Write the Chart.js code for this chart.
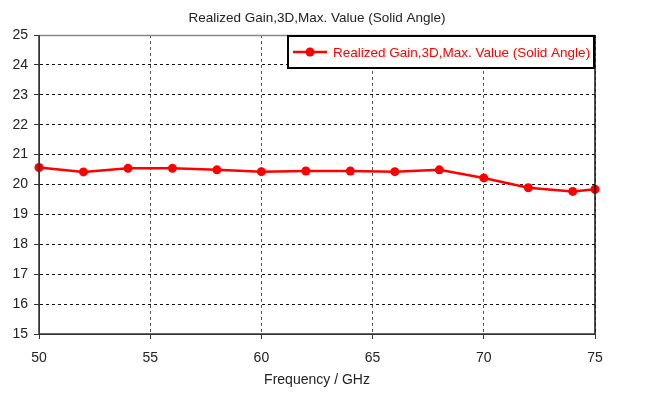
<!DOCTYPE html>
<html>
<head>
<meta charset="utf-8">
<script src="https://cdn.jsdelivr.net/npm/chart.js@4"></script>
<style>
html,body{margin:0;padding:0;background:#fff;}
#wrap{width:649px;height:397px;}
</style>
</head>
<body>
<div id="wrap"><canvas id="c" width="649" height="397"></canvas></div>
<script>
const chartTitle = "Realized Gain,3D,Max. Value (Solid Angle)";
const seriesLabel = "Realized Gain,3D,Max. Value (Solid Angle)";
const xTitle = "Frequency / GHz";
const frequency = [50, 52, 54, 56, 58, 60, 62, 64, 66, 68, 70, 72, 74, 75];
const gain = [20.57, 20.42, 20.54, 20.54, 20.49, 20.43, 20.45, 20.45, 20.43, 20.49, 20.22, 19.89, 19.77, 19.84];
const xMin = 50, xMax = 75, xStep = 5;
const yMin = 15, yMax = 25, yStep = 1;

const FONT = "'Liberation Sans', Arial, sans-serif";
const RED = '#ff0000';

const framePlugin = {
  id: 'frame',
  afterDraw(chart) {
    const {ctx, chartArea: a} = chart;
    ctx.save();
    ctx.strokeStyle = '#888';
    ctx.lineWidth = 1.5;
    ctx.beginPath(); ctx.moveTo(a.left, a.top + 0.5); ctx.lineTo(a.right, a.top + 0.5); ctx.stroke();
    ctx.strokeStyle = '#111';
    ctx.beginPath(); ctx.moveTo(a.right, a.top); ctx.lineTo(a.right, a.bottom); ctx.stroke();
    ctx.strokeStyle = '#333';
    ctx.beginPath(); ctx.moveTo(a.left, a.top); ctx.lineTo(a.left, a.bottom); ctx.lineTo(a.right, a.bottom); ctx.stroke();

    const ds = chart.data.datasets[0];
    const w = 308, h = 34;
    const x0 = a.right - w, y0 = a.top;
    ctx.fillStyle = '#fff';
    ctx.fillRect(x0, y0, w, h);
    ctx.strokeStyle = '#000';
    ctx.lineWidth = 2;
    ctx.strokeRect(x0 + 1, y0 + 1, w - 2, h - 2);
    const cy = y0 + 17;
    ctx.strokeStyle = ds.borderColor;
    ctx.lineWidth = 2.5;
    ctx.beginPath(); ctx.moveTo(x0 + 6, cy); ctx.lineTo(x0 + 40, cy); ctx.stroke();
    ctx.fillStyle = ds.borderColor;
    ctx.beginPath(); ctx.arc(x0 + 23, cy, 4.5, 0, Math.PI * 2); ctx.fill();
    ctx.font = "13.5px " + FONT;
    ctx.textBaseline = 'middle';
    ctx.textAlign = 'left';
    ctx.fillText(ds.label, x0 + 46, cy + 1);
    ctx.restore();
  }
};

new Chart(document.getElementById('c'), {
  type: 'line',
  data: {
    datasets: [{
      label: seriesLabel,
      data: frequency.map((f, i) => ({x: f, y: gain[i]})),
      borderColor: RED,
      backgroundColor: RED,
      borderWidth: 2.5,
      pointRadius: 4.5,
      pointHoverRadius: 4.5,
      pointBackgroundColor: RED,
      pointBorderWidth: 0,
      tension: 0,
      clip: false
    }]
  },
  options: {
    responsive: false,
    animation: false,
    devicePixelRatio: 1,
    layout: {padding: {top: 0, left: 0, right: 54, bottom: 0}},
    plugins: {
      legend: {display: false},
      tooltip: {enabled: false},
      title: {
        display: true,
        fullSize: false,
        text: chartTitle,
        color: '#222',
        font: {family: FONT, size: 13.5, weight: 'normal'},
        padding: {top: 10, bottom: 8.8}
      }
    },
    scales: {
      x: {
        type: 'linear',
        min: xMin, max: xMax,
        afterFit(s) { s.height = 63; },
        ticks: {stepSize: xStep, color: '#222', font: {family: FONT, size: 14}, padding: 11},
        grid: {color: '#555', lineWidth: 1, tickColor: '#333', tickLength: 5, tickBorderDash: []},
        border: {display: true, color: '#333', width: 1, dash: [3, 3]},
        title: {display: true, text: xTitle, color: '#222', font: {family: FONT, size: 14}, padding: {top: 0, bottom: 8}}
      },
      y: {
        min: yMin, max: yMax,
        afterFit(s) { s.width = 39; },
        ticks: {stepSize: yStep, color: '#222', font: {family: FONT, size: 14}, padding: 6},
        grid: {color: '#111', lineWidth: 1, tickColor: '#333', tickLength: 5, tickBorderDash: []},
        border: {display: true, color: '#333', width: 1, dash: [3, 3]}
      }
    }
  },
  plugins: [framePlugin]
});
</script>
</body>
</html>
